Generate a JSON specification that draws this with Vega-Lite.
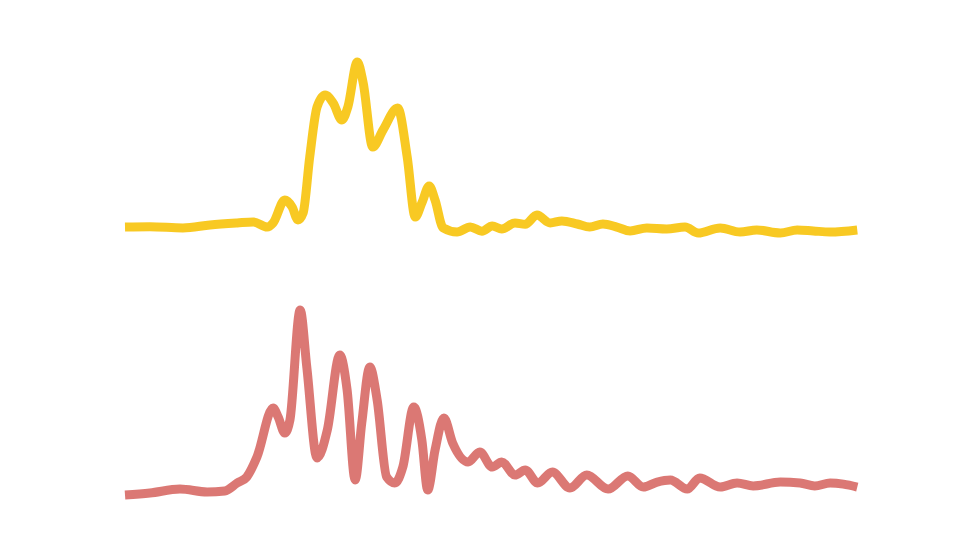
{
  "$schema": "https://vega.github.io/schema/vega-lite/v6.json",
  "width": 956,
  "height": 560,
  "autosize": {"type": "fit", "contains": "padding"},
  "padding": 0,
  "background": "white",
  "view": {"stroke": null},
  "datasets": {
    "yellow": [
      {"x":0,"v":2.9},{"x":3.4,"v":3.1},{"x":7.9,"v":2.4},{"x":11.6,"v":4.1},{"x":15.3,"v":5.3},{"x":17.5,"v":5.9},{"x":19.4,"v":2.9},{"x":20.2,"v":5.3},{"x":21.8,"v":18.8},{"x":22.8,"v":14.7},{"x":23.6,"v":7.1},{"x":24.3,"v":11.2},{"x":25.2,"v":44.1},{"x":26.2,"v":73.5},{"x":27.3,"v":80.6},{"x":28.4,"v":75.9},{"x":29.6,"v":65.9},{"x":30.4,"v":73.5},{"x":31.7,"v":100},{"x":32.5,"v":87.6},{"x":33.8,"v":50},{"x":35.2,"v":60},{"x":37.2,"v":72.9},{"x":38.5,"v":44.1},{"x":39.6,"v":8.8},{"x":40.5,"v":17.1},{"x":41.5,"v":27.1},{"x":42.3,"v":18.8},{"x":43.4,"v":2.4},{"x":45.3,"v":0},{"x":47.1,"v":2.9},{"x":48.7,"v":0.5},{"x":50.1,"v":3.5},{"x":51.4,"v":1.8},{"x":53.2,"v":5.3},{"x":54.6,"v":4.5},{"x":56.2,"v":10},{"x":58.0,"v":5.3},{"x":59.6,"v":6.5},{"x":61.7,"v":4.7},{"x":63.4,"v":2.9},{"x":65.2,"v":4.7},{"x":67.1,"v":2.9},{"x":68.9,"v":0.6},{"x":71.2,"v":2.4},{"x":73.9,"v":1.8},{"x":76.4,"v":2.9},{"x":78.2,"v":-0.6},{"x":81.2,"v":2.4},{"x":83.9,"v":0},{"x":86.2,"v":1.2},{"x":89.4,"v":-0.6},{"x":91.7,"v":1.2},{"x":93.9,"v":0.6},{"x":96.2,"v":0},{"x":99.9,"v":1.2}
    ],
    "red": [
      {"x":0,"v":0},{"x":3.4,"v":1.1},{"x":7.5,"v":3.2},{"x":11.2,"v":1.6},{"x":13.6,"v":2.2},{"x":15.3,"v":6.5},{"x":16.6,"v":9.7},{"x":18.0,"v":20.5},{"x":20.2,"v":47},{"x":20.9,"v":42.2},{"x":21.8,"v":33.5},{"x":22.5,"v":40.5},{"x":23.9,"v":100},{"x":24.8,"v":69.2},{"x":26.2,"v":20},{"x":27.6,"v":35.1},{"x":29.3,"v":75.7},{"x":30.3,"v":56.8},{"x":31.4,"v":8.1},{"x":32.3,"v":38.9},{"x":33.4,"v":69.2},{"x":34.4,"v":51.4},{"x":35.7,"v":9.7},{"x":36.8,"v":6.5},{"x":37.9,"v":15.1},{"x":39.4,"v":47.6},{"x":40.5,"v":29.7},{"x":41.3,"v":2.7},{"x":42.3,"v":24.3},{"x":43.5,"v":41.6},{"x":44.7,"v":28.1},{"x":46.8,"v":17.8},{"x":48.4,"v":23.2},{"x":50.1,"v":15.1},{"x":51.4,"v":17.8},{"x":53.2,"v":10.8},{"x":54.6,"v":13.5},{"x":56.3,"v":6.5},{"x":58.3,"v":12.4},{"x":60.7,"v":3.8},{"x":63.0,"v":10.8},{"x":65.9,"v":3.2},{"x":68.6,"v":10.3},{"x":70.7,"v":4.3},{"x":72.6,"v":7},{"x":74.4,"v":8.1},{"x":76.7,"v":3.2},{"x":78.4,"v":9.2},{"x":81.2,"v":4.3},{"x":83.5,"v":6.5},{"x":85.7,"v":4.9},{"x":89.4,"v":7},{"x":92.1,"v":6.5},{"x":94.1,"v":4.9},{"x":96.2,"v":6.5},{"x":98.0,"v":5.9},{"x":99.9,"v":4.3}
    ]
  },
  "layer": [
    {
      "data": {"name": "yellow"},
      "mark": {"type": "line", "interpolate": "monotone", "strokeWidth": 9, "color": "#F8C617", "strokeCap": "butt", "strokeJoin": "round", "opacity": 0.95},
      "encoding": {
        "x": {"field": "x", "type": "quantitative", "axis": null, "scale": {"domain": [0, 100], "range": [125, 858], "nice": false, "zero": false}},
        "y": {"field": "v", "type": "quantitative", "axis": null, "scale": {"domain": [0, 100], "range": [232, 62], "nice": false, "zero": false}}
      }
    },
    {
      "data": {"name": "red"},
      "mark": {"type": "line", "interpolate": "monotone", "strokeWidth": 9, "color": "#D9716D", "strokeCap": "butt", "strokeJoin": "round", "opacity": 0.95},
      "encoding": {
        "x": {"field": "x", "type": "quantitative", "axis": null, "scale": {"domain": [0, 100], "range": [125, 858], "nice": false, "zero": false}},
        "y": {"field": "v", "type": "quantitative", "axis": null, "scale": {"domain": [0, 100], "range": [495, 310], "nice": false, "zero": false}}
      }
    }
  ],
  "resolve": {"scale": {"y": "independent"}}
}
